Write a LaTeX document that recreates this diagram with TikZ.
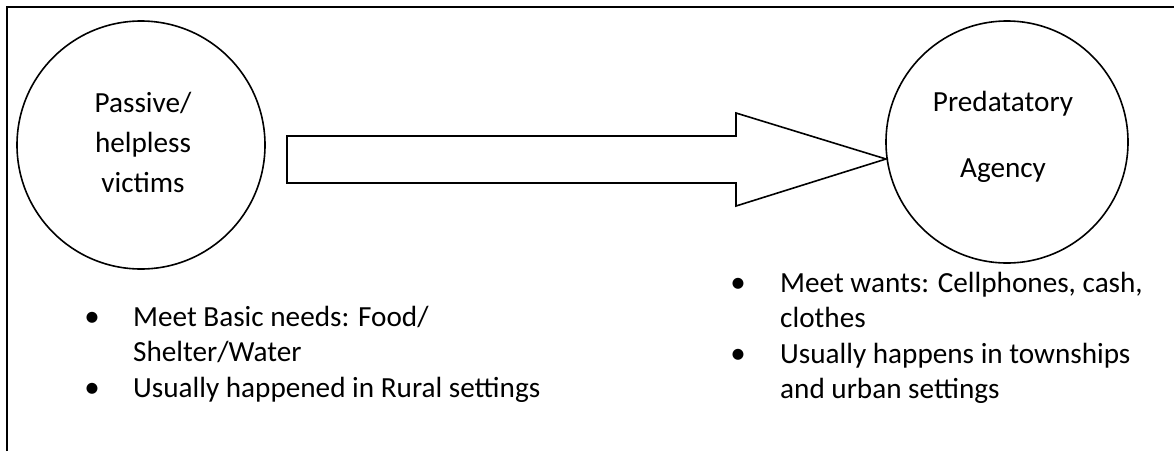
\documentclass[tikz,border=0pt]{standalone}
\usepackage{fontspec}
\setmainfont{Carlito}
\begin{document}
\begin{tikzpicture}[x=1pt,y=-1pt,
  lbl/.style={font=\fontsize{29.2}{36}\selectfont, inner sep=0pt, anchor=base},
  txt/.style={lbl, anchor=base west},
  blt/.style={font=\fontsize{31}{36}\selectfont, inner sep=0pt, anchor=base},
  ring/.style={circle, draw, line width=1.6pt, inner sep=0pt},
  blockarrow/.style={draw, line width=1.6pt, line join=miter}]
\useasboundingbox (0,0) rectangle (1174,451);
% frame (top and left only)
\draw[line width=2.2pt] (7,451) -- (7,7) -- (1174,7);
% circles
\node[ring, minimum size=248pt] (victims) at (141,145) {};
\node[ring, minimum size=242pt] (agency) at (1007,142) {};
% labels inside circles
\node[lbl] (v1) at (143,112) {Passive/};
\node[lbl] (v2) at (143,152) {helpless};
\node[lbl] (v3) at (143,192) {victims};
\node[lbl] (a1) at (1003,111) {Predatatory};
\node[lbl] (a2) at (1003,177) {Agency};
% block arrow
\coordinate (tip) at (886,159);
\draw[blockarrow] (287,136) -- (736,136) -- (736,113) -- (tip) -- (736,206) -- (736,183) -- (287,183) -- cycle;
% left bullets
\node[blt] (lb1) at (92,326) {•};
\node[txt] (lt1) at (133,326) {Meet Basic needs: Food/};
\node[txt] (lt2) at (133,361.5) {Shelter/Water};
\node[blt] (lb2) at (92,397) {•};
\node[txt] (lt3) at (133,397) {Usually happened in Rural settings};
% right bullets
\node[blt] (rb1) at (738,292) {•};
\node[txt] (rt1) at (780,292) {Meet wants: Cellphones, cash,};
\node[txt] (rt2) at (780,327.5) {clothes};
\node[blt] (rb2) at (738,363) {•};
\node[txt] (rt3) at (780,363) {Usually happens in townships};
\node[txt] (rt4) at (780,398.5) {and urban settings};
\end{tikzpicture}
\end{document}
